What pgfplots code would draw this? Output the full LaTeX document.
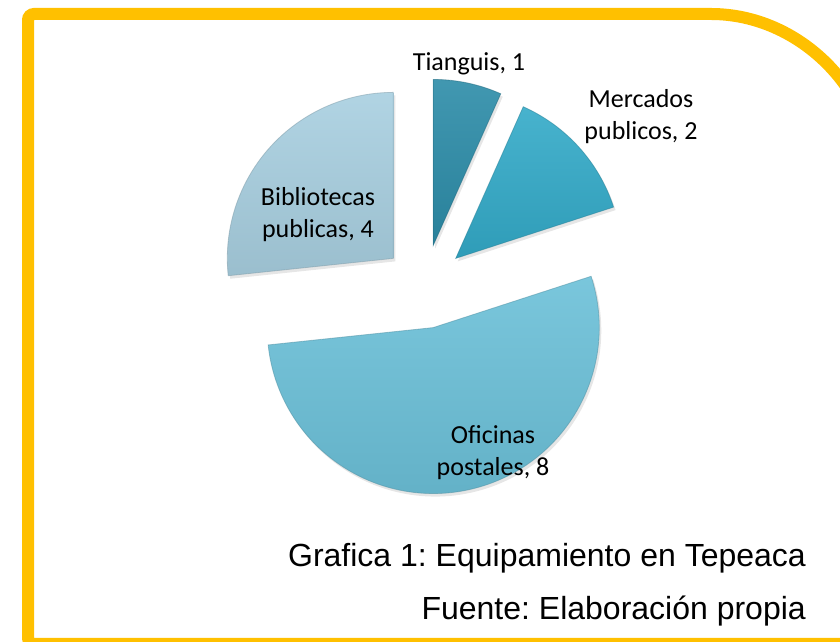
\documentclass[border=0pt]{standalone}
\usepackage{pgfplots}
\pgfplotsset{compat=1.18}
\usepackage{pgfplotstable}
\usepackage{fontspec}
\setmainfont{Carlito}
\newfontfamily\arialf{Liberation Sans}
\usetikzlibrary{shadows}
\definecolor{cTia}{HTML}{2C8CA8}
\definecolor{cMer}{HTML}{33AAC8}
\definecolor{cOfi}{HTML}{6BC0D8}
\definecolor{cBib}{HTML}{A8CFE0}
\definecolor{frameY}{HTML}{FFC000}

\pgfplotstableread{
name value color
Tianguis 1 cTia
Mercados 2 cMer
Oficinas 8 cOfi
Bibliotecas 4 cBib
}\piedata

\begin{document}
\frenchspacing
\begin{tikzpicture}[x=1pt,y=1pt]
\useasboundingbox (0,0) rectangle (840,642);
\clip (0,0) rectangle (840,642);
\begin{axis}[at={(0,0)},anchor=south west, scale only axis, width=840pt, height=642pt,
  xmin=0,xmax=840,ymin=0,ymax=642, hide axis, clip=false]
\def\cx{424.5}\def\cy{355.5}\def\rad{166}\def\expl{42}
\def\total{0}
\pgfplotsforeachungrouped \i in {0,1,2,3}{%
  \pgfplotstablegetelem{\i}{value}\of\piedata
  \pgfmathsetmacro\total{\total+\pgfplotsretval}}
\def\angstart{90}
\pgfplotsforeachungrouped \i in {0,1,2,3}{%
  \pgfplotstablegetelem{\i}{value}\of\piedata \let\sliceval\pgfplotsretval
  \pgfplotstablegetelem{\i}{color}\of\piedata \let\slicecol\pgfplotsretval
  \pgfmathsetmacro\sweep{360*\sliceval/\total}
  \pgfmathsetmacro\angend{\angstart-\sweep}
  \pgfmathsetmacro\angmid{\angstart-\sweep/2}
  \pgfmathsetmacro\ox{\cx+\expl*cos(\angmid)}
  \pgfmathsetmacro\oy{\cy+\expl*sin(\angmid)}
  \pgfmathsetmacro\sx{\ox+\rad*cos(\angstart)}
  \pgfmathsetmacro\sy{\oy+\rad*sin(\angstart)}
  \edef\doslice{\noexpand\path[top color=\slicecol!90!white, bottom color=\slicecol!92!black,
     draw=\slicecol!75!black, draw opacity=0.5, line width=0.8pt,
     drop shadow={opacity=0.2, shadow xshift=2pt, shadow yshift=-3pt}]
     (axis cs:\ox,\oy) -- (axis cs:\sx,\sy) arc[start angle=\angstart, end angle=\angend, radius=\rad pt] -- cycle;}
  \doslice
  \let\angstart\angend
}
\node[font=\fontsize{26}{32}\selectfont, anchor=base, inner sep=0] at (axis cs:469,571) {Tianguis, 1};
\node[font=\fontsize{26}{32}\selectfont, align=center] at (axis cs:641,525) {Mercados\\publicos, 2};
\node[font=\fontsize{26}{32}\selectfont, align=center] at (axis cs:318,427) {Bibliotecas\\publicas, 4};
\node[font=\fontsize{26}{32}\selectfont, align=center] at (axis cs:493,189) {Oficinas\\postales, 8};
\end{axis}
\node[anchor=base east, font=\arialf\fontsize{32}{38}\selectfont, inner sep=0] at (806,75) {Grafica 1: Equipamiento en Tepeaca};
\node[anchor=base east, font=\arialf\fontsize{32}{38}\selectfont, inner sep=0] at (806,22) {Fuente: Elaboración propia};
\draw[frameY, line width=12, rounded corners=6] (28,-2) -- (28,628) -- (705,628) arc[start angle=90,end angle=0,radius=171] -- (876,-2) -- cycle;
\end{tikzpicture}
\end{document}
